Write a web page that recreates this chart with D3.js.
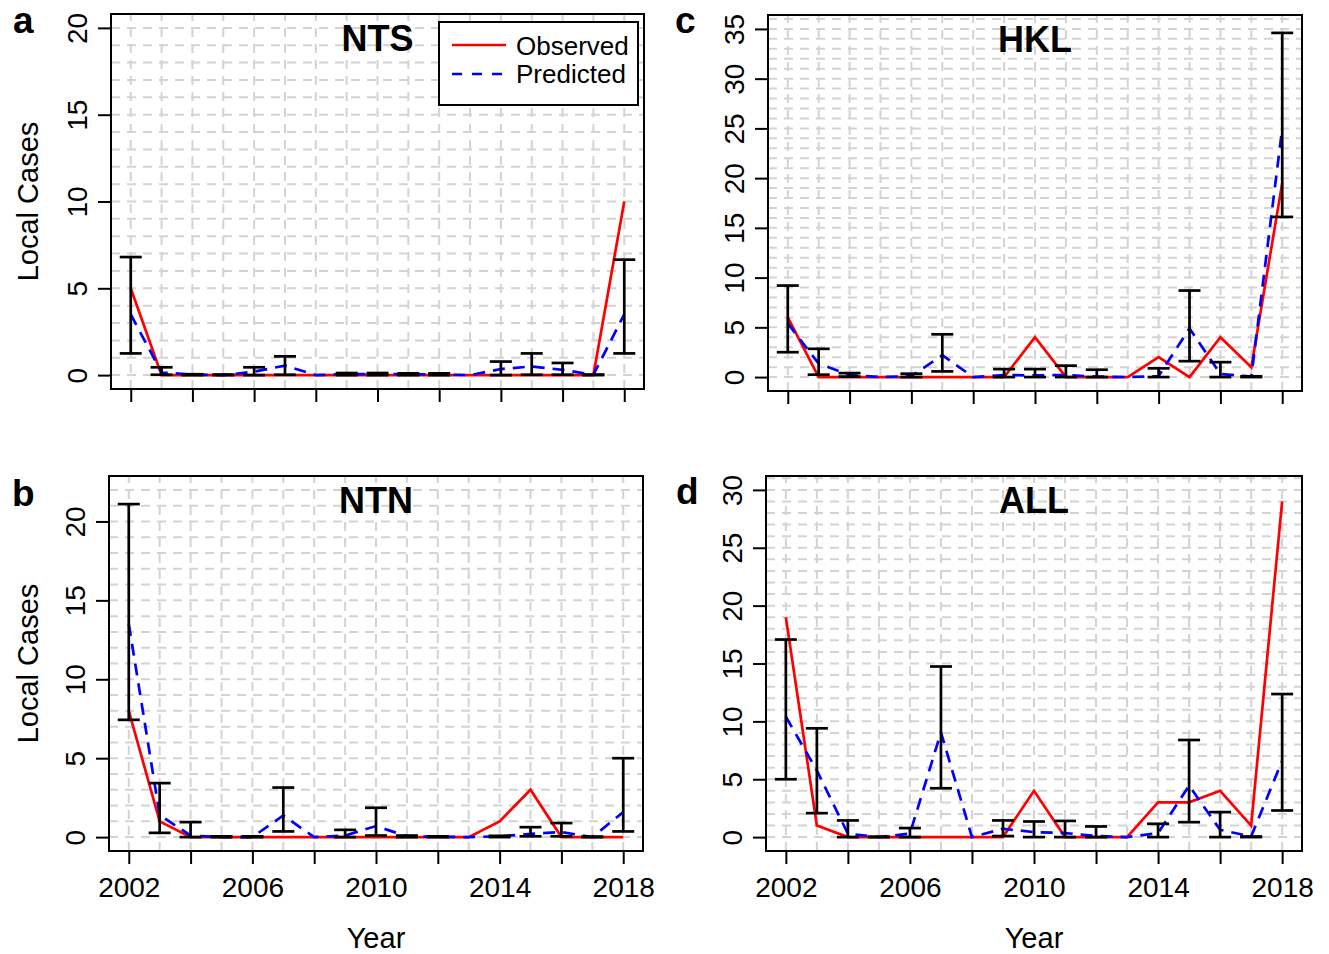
<!DOCTYPE html>
<html>
<head>
<meta charset="utf-8">
<script src="https://cdn.jsdelivr.net/npm/d3@7"></script>
<style>
  body { margin: 0; background: #fff; }
</style>
</head>
<body>
<div id="chart"></div>
<script>
const years = [2002, 2003, 2004, 2005, 2006, 2007, 2008, 2009, 2010,
               2011, 2012, 2013, 2014, 2015, 2016, 2017, 2018];
const xTicks = [2002, 2004, 2006, 2008, 2010, 2012, 2014, 2016, 2018];
const xLabels = [2002, 2006, 2010, 2014, 2018];

// NTS
const ntsObserved  = [5, 0, 0, 0, 0, 0, 0, 0, 0, 0, 0, 0, 0, 0, 0, 0, 10];
const ntsPredicted = [3.5, 0.15, 0.03, 0, 0.2, 0.55, 0, 0.06, 0.06, 0.05, 0.04, 0, 0.35, 0.5, 0.3, 0.02, 3.5];
const ntsLower     = [1.25, 0.02, 0, 0, 0, 0.02, null, 0, 0, 0, 0, null, 0, 0.02, 0.02, 0, 1.25];
const ntsUpper     = [6.8, 0.45, 0.05, 0.03, 0.45, 1.08, null, 0.12, 0.12, 0.1, 0.1, null, 0.78, 1.25, 0.7, 0.03, 6.65];

// NTN
const ntnObserved  = [8, 1, 0, 0, 0, 0, 0, 0, 0, 0, 0, 0, 1, 3, 0, 0, 0];
const ntnPredicted = [13.5, 1.4, 0.1, 0, 0, 1.37, 0, 0.1, 0.7, 0.05, 0.02, 0, 0.05, 0.2, 0.32, 0, 1.58];
const ntnLower     = [7.43, 0.27, 0, 0, 0, 0.36, null, 0, 0.1, 0, 0, null, 0, 0.05, 0.05, 0, 0.36];
const ntnUpper     = [21.1, 3.42, 0.95, 0.05, 0.05, 3.14, null, 0.46, 1.86, 0.1, 0.05, null, 0.08, 0.63, 0.89, 0.03, 5.0];

// HKL
const hklObserved  = [6, 0, 0, 0, 0, 0, 0, 0, 4, 0, 0, 0, 2, 0, 4, 1, 19.5];
const hklPredicted = [5.4, 1.35, 0.2, 0, 0.1, 2.2, 0, 0.2, 0.17, 0.2, 0.05, 0, 0.1, 4.9, 0.3, 0.05, 25];
const hklLower     = [2.5, 0.24, 0.05, null, 0, 0.57, null, 0, 0, 0, 0, null, 0, 1.6, 0, 0, 16.1];
const hklUpper     = [9.2, 2.84, 0.4, null, 0.34, 4.3, null, 0.8, 0.8, 1.15, 0.74, null, 0.88, 8.7, 1.5, 0.08, 34.6];

// ALL
const allObserved  = [19, 1, 0, 0, 0, 0, 0, 0, 4, 0, 0, 0, 3, 3, 4, 1, 29];
const allPredicted = [10.4, 5.75, 0.3, 0, 0.3, 9.05, 0, 0.72, 0.43, 0.35, 0.1, 0, 0.35, 4.45, 0.63, 0.05, 6.6];
const allLower     = [5.0, 2.07, 0, 0, 0, 4.22, null, 0.09, 0, 0, 0, null, 0, 1.29, 0, 0, 2.3];
const allUpper     = [17.07, 9.4, 1.44, 0.03, 0.78, 14.74, null, 1.44, 1.35, 1.4, 0.92, null, 1.15, 8.39, 2.16, 0.05, 12.36];

const font = "'Liberation Sans', Arial, Helvetica, sans-serif";

const svg = d3.select("#chart")
  .append("svg")
  .attr("width", 1329)
  .attr("height", 954)
  .style("font-family", font);

const panels = [
  { letter: "a", title: "NTS", obs: ntsObserved, pred: ntsPredicted, lo: ntsLower, hi: ntsUpper,
    yMax: 20, box: { left: 111, right: 644, top: 14, bottom: 389 }, letterPos: [13, 33],
    xLab: false, yLab: true, legend: true },
  { letter: "b", title: "NTN", obs: ntnObserved, pred: ntnPredicted, lo: ntnLower, hi: ntnUpper,
    yMax: 22, box: { left: 109, right: 643, top: 476, bottom: 851 }, letterPos: [12, 506],
    xLab: true, yLab: true, legend: false },
  { letter: "c", title: "HKL", obs: hklObserved, pred: hklPredicted, lo: hklLower, hi: hklUpper,
    yMax: 35, box: { left: 768, right: 1302, top: 15, bottom: 391 }, letterPos: [675, 33],
    xLab: false, yLab: false, legend: false },
  { letter: "d", title: "ALL", obs: allObserved, pred: allPredicted, lo: allLower, hi: allUpper,
    yMax: 30, box: { left: 766, right: 1302, top: 476, bottom: 851 }, letterPos: [676, 504],
    xLab: true, yLab: false, legend: false }
];

panels.forEach(p => {
  const b = p.box;
  const x = d3.scaleLinear()
    .domain([2002 - 0.64, 2018 + 0.64])
    .range([b.left, b.right]);
  const y = d3.scaleLinear()
    .domain([-0.04 * p.yMax, 1.04 * p.yMax])
    .range([b.bottom, b.top]);

  const g = svg.append("g");

  // grid
  const grid = g.append("g")
    .attr("stroke", "#d3d3d3")
    .attr("stroke-width", 2)
    .attr("stroke-dasharray", "9,7");
  grid.selectAll("line.v")
    .data(years)
    .enter()
    .append("line")
    .attr("x1", d => x(d)).attr("x2", d => x(d))
    .attr("y1", b.bottom).attr("y2", b.top);
  grid.selectAll("line.h")
    .data(d3.range(0, Math.floor(y.domain()[1]) + 1))
    .enter()
    .append("line")
    .attr("x1", b.left).attr("x2", b.right)
    .attr("y1", d => y(d)).attr("y2", d => y(d));

  const line = d3.line()
    .x((d, i) => x(years[i]))
    .y(d => y(d));

  g.append("path")
    .datum(p.obs)
    .attr("fill", "none")
    .attr("stroke", "#ff0000")
    .attr("stroke-width", 2.7)
    .attr("d", line);

  g.append("path")
    .datum(p.pred)
    .attr("fill", "none")
    .attr("stroke", "#0000ff")
    .attr("stroke-width", 2.7)
    .attr("stroke-dasharray", "12,8")
    .attr("d", line);

  // error bars
  const bars = years.map((yr, i) => ({ yr, lo: p.lo[i], hi: p.hi[i] }))
    .filter(d => d.lo !== null);
  const bar = g.append("g")
    .attr("stroke", "#000")
    .attr("stroke-width", 2.7)
    .selectAll("g")
    .data(bars)
    .enter()
    .append("g");
  bar.append("line")
    .attr("x1", d => x(d.yr)).attr("x2", d => x(d.yr))
    .attr("y1", d => y(d.lo)).attr("y2", d => y(d.hi));
  bar.append("line")
    .attr("x1", d => x(d.yr) - 11).attr("x2", d => x(d.yr) + 11)
    .attr("y1", d => y(d.lo)).attr("y2", d => y(d.lo));
  bar.append("line")
    .attr("x1", d => x(d.yr) - 11).attr("x2", d => x(d.yr) + 11)
    .attr("y1", d => y(d.hi)).attr("y2", d => y(d.hi));

  // box
  g.append("rect")
    .attr("x", b.left).attr("y", b.top)
    .attr("width", b.right - b.left).attr("height", b.bottom - b.top)
    .attr("fill", "none")
    .attr("stroke", "#000")
    .attr("stroke-width", 2);

  // y axis
  const yAxis = g.append("g")
    .attr("transform", `translate(${b.left},0)`)
    .call(d3.axisLeft(y).tickValues(d3.range(0, p.yMax + 1, 5)).tickSize(13));
  yAxis.select(".domain").remove();
  yAxis.selectAll("line").attr("stroke-width", 2);
  yAxis.selectAll("text")
    .attr("x", null)
    .attr("dy", null)
    .attr("transform", "translate(-24,0) rotate(-90)")
    .attr("text-anchor", "middle")
    .attr("fill", "#000")
    .style("font-family", font)
    .style("font-size", "28px");

  // x axis
  const xAxis = g.append("g")
    .attr("transform", `translate(0,${b.bottom})`)
    .call(d3.axisBottom(x).tickValues(xTicks).tickSize(13)
      .tickFormat(d => (p.xLab && xLabels.includes(d)) ? d : ""));
  xAxis.select(".domain").remove();
  xAxis.selectAll("line").attr("stroke-width", 2);
  xAxis.selectAll("text")
    .attr("y", 46)
    .attr("dy", null)
    .attr("fill", "#000")
    .style("font-family", font)
    .style("font-size", "28px");

  // title and panel letter
  g.append("text")
    .attr("x", (b.left + b.right) / 2)
    .attr("y", b.top + 37)
    .attr("text-anchor", "middle")
    .style("font-size", "36px")
    .style("font-weight", "bold")
    .text(p.title);

  g.append("text")
    .attr("x", p.letterPos[0])
    .attr("y", p.letterPos[1])
    .style("font-size", "37px")
    .style("font-weight", "bold")
    .text(p.letter);

  if (p.yLab) {
    g.append("text")
      .attr("transform", `translate(38,${(b.top + b.bottom) / 2}) rotate(-90)`)
      .attr("text-anchor", "middle")
      .style("font-size", "29px")
      .text("Local Cases");
  }
  if (p.xLab) {
    g.append("text")
      .attr("x", (b.left + b.right) / 2)
      .attr("y", 948)
      .attr("text-anchor", "middle")
      .style("font-size", "29px")
      .text("Year");
  }

  if (p.legend) {
    const legend = g.append("g");
    legend.append("rect")
      .attr("x", 439).attr("y", 22)
      .attr("width", 199).attr("height", 83)
      .attr("fill", "#fff")
      .attr("stroke", "#000")
      .attr("stroke-width", 2);
    legend.append("line")
      .attr("x1", 452).attr("x2", 506)
      .attr("y1", 45).attr("y2", 45)
      .attr("stroke", "#ff0000")
      .attr("stroke-width", 2.7);
    legend.append("line")
      .attr("x1", 452).attr("x2", 506)
      .attr("y1", 74).attr("y2", 74)
      .attr("stroke", "#0000ff")
      .attr("stroke-width", 2.7)
      .attr("stroke-dasharray", "10,10");
    legend.append("text")
      .attr("x", 516).attr("y", 55)
      .style("font-size", "26px")
      .text("Observed");
    legend.append("text")
      .attr("x", 516).attr("y", 83)
      .style("font-size", "26px")
      .text("Predicted");
  }
});
</script>
</body>
</html>
